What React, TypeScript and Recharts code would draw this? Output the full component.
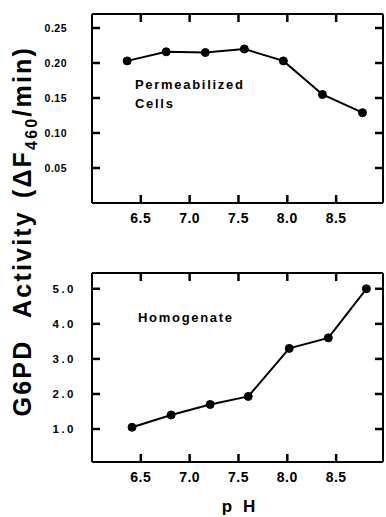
import { LineChart, Line, XAxis, YAxis, ReferenceLine } from 'recharts'

// pH values (the two panels are slightly offset)
const phCells = [6.36, 6.76, 7.16, 7.56, 7.96, 8.36, 8.77]
const cellsActivity = [0.203, 0.216, 0.215, 0.22, 0.203, 0.155, 0.129]

const phHomog = [6.41, 6.81, 7.21, 7.6, 8.02, 8.42, 8.81]
const homogActivity = [1.05, 1.4, 1.7, 1.93, 3.3, 3.6, 5.0]

const phTicks = [6.5, 7.0, 7.5, 8.0, 8.5]
const cellsTicks = [0.05, 0.1, 0.15, 0.2, 0.25]
const homogTicks = [1, 2, 3, 4, 5]

const cellsData = phCells.map((ph, i) => ({ ph, v: cellsActivity[i] }))
const homogData = phHomog.map((ph, i) => ({ ph, v: homogActivity[i] }))

const FONT = '"Liberation Sans", Arial, sans-serif'
const ink = '#000'
const axisStroke = { stroke: ink, strokeWidth: 2 }
const X_DOMAIN: [number, number] = [6.0, 8.98]
const TICK = 8
const X_MARGIN = 10
const W = 386
const RIGHT_GAP = 3 // margin.right + right axis width
const PLOT_W = W - 92 - RIGHT_GAP
const PLOT_H = 189

type Style = Record<string, string | number>

function bottomLabel(style: Style) {
  return (props: any) => {
    const { x, y, payload } = props
    return <text x={x} y={y} dy="0.71em" textAnchor="middle" {...style}>{payload.value.toFixed(1)}</text>
  }
}

function leftLabel(fmt: (v: number) => string, style: Style) {
  return (props: any) => {
    const { x, y, payload } = props
    return <text x={x} y={y} dy="0.355em" textAnchor="end" {...style}>{fmt(payload.value)}</text>
  }
}

const xTickStyle = { fontSize: 14, fontWeight: 700, fill: ink, fontFamily: FONT, letterSpacing: 0.5 }

interface PanelProps {
  data: { ph: number; v: number }[]
  height: number
  top: number
  bottom: number
  yDomain: [number, number]
  yTicks: number[]
  yFmt: (v: number) => string
  yTickMargin: number
  yTickStyle: Style
}

function Panel({ data, height, top, bottom, yDomain, yTicks, yFmt, yTickMargin, yTickStyle }: PanelProps) {
  const [x0, x1] = X_DOMAIN
  const [y0, y1] = yDomain
  const dx = ((x1 - x0) * TICK) / PLOT_W
  const dy = ((y1 - y0) * TICK) / PLOT_H
  const tickLine = { stroke: ink, strokeWidth: 2.5, ifOverflow: 'visible' as const, xAxisId: 'b', yAxisId: 'l' }
  return (
    <LineChart width={W} height={height} data={data} margin={{ top, right: RIGHT_GAP - 1, bottom, left: 0 }}>
      <XAxis
        xAxisId="b" dataKey="ph" type="number" domain={X_DOMAIN} ticks={phTicks}
        allowDataOverflow height={30} tickSize={0} tickMargin={X_MARGIN} tickLine={false}
        axisLine={axisStroke} tick={bottomLabel(xTickStyle)}
      />
      <XAxis
        xAxisId="t" orientation="top" dataKey="ph" type="number" domain={X_DOMAIN} ticks={phTicks}
        allowDataOverflow height={1} tickLine={false} tick={false} axisLine={axisStroke}
      />
      <YAxis
        yAxisId="l" type="number" domain={yDomain} ticks={yTicks} allowDataOverflow
        width={92} tickSize={0} tickMargin={yTickMargin} tickLine={false}
        axisLine={axisStroke} tick={leftLabel(yFmt, yTickStyle)}
      />
      <YAxis
        yAxisId="r" orientation="right" type="number" domain={yDomain} ticks={yTicks} allowDataOverflow
        width={1} tickLine={false} tick={false} axisLine={axisStroke}
      />
      {phTicks.map((t) => (
        <ReferenceLine key={`b${t}`} {...tickLine} segment={[{ x: t, y: y0 }, { x: t, y: y0 + dy }]} />
      ))}
      {phTicks.map((t) => (
        <ReferenceLine key={`t${t}`} {...tickLine} segment={[{ x: t, y: y1 }, { x: t, y: y1 - dy }]} />
      ))}
      {yTicks.map((t) => (
        <ReferenceLine key={`l${t}`} {...tickLine} segment={[{ x: x0, y: t }, { x: x0 + dx, y: t }]} />
      ))}
      {yTicks.map((t) => (
        <ReferenceLine key={`r${t}`} {...tickLine} segment={[{ x: x1, y: t }, { x: x1 - dx, y: t }]} />
      ))}
      <Line
        xAxisId="b" yAxisId="l" type="linear" dataKey="v"
        stroke={ink} strokeWidth={2}
        dot={{ r: 4, fill: ink, stroke: ink, strokeWidth: 1 }}
        activeDot={false}
        isAnimationActive={false}
      />
    </LineChart>
  )
}

export default function App() {
  const note = { fontSize: 13, fontWeight: 700, fill: ink, fontFamily: FONT, letterSpacing: 1.7 }
  const ylab = { fontSize: 25, fontWeight: 700, fill: ink, fontFamily: FONT, letterSpacing: 2.2 }
  return (
    <div style={{ position: 'absolute', left: 0, top: 0, width: W, height: 517 }}>
      <div style={{ position: 'absolute', left: 0, top: 0 }}>
        <Panel
          data={cellsData}
          height={240}
          top={13}
          bottom={7}
          yDomain={[0, 0.27]}
          yTicks={cellsTicks}
          yFmt={(v: number) => v.toFixed(2)}
          yTickMargin={25}
          yTickStyle={{ fontSize: 10.5, fontWeight: 700, fill: ink, fontFamily: FONT, letterSpacing: 0.5 }}
        />
      </div>
      <div style={{ position: 'absolute', left: 0, top: 240 }}>
        <Panel
          data={homogData}
          height={277}
          top={32}
          bottom={25}
          yDomain={[0.06, 5.45]}
          yTicks={homogTicks}
          yFmt={(v: number) => v.toFixed(1)}
          yTickMargin={16}
          yTickStyle={{ fontSize: 11.5, fontWeight: 700, fill: ink, fontFamily: FONT, letterSpacing: 2.5 }}
        />
      </div>
      <svg width={W} height={517} style={{ position: 'absolute', left: 0, top: 0, pointerEvents: 'none' }}>
        <text x={135} y={89} {...note}>Permeabilized</text>
        <text x={135} y={108} {...note}>Cells</text>
        <text x={138} y={322} {...note}>Homogenate</text>
        <text x={240} y={512} textAnchor="middle" fontSize={17} fontWeight={700} fontFamily={FONT} letterSpacing={3} fill={ink}>p H</text>
        <text transform="translate(31,378) rotate(-90)" textAnchor="middle" {...ylab}>G6PD</text>
        <text transform="translate(31,264) rotate(-90)" textAnchor="middle" {...ylab}>Activity</text>
        <text transform="translate(31,122) rotate(-90)" textAnchor="middle" {...ylab}>
          (ΔF<tspan fontSize={16} dy={6}>460</tspan><tspan dy={-6}>/min)</tspan>
        </text>
      </svg>
    </div>
  )
}
